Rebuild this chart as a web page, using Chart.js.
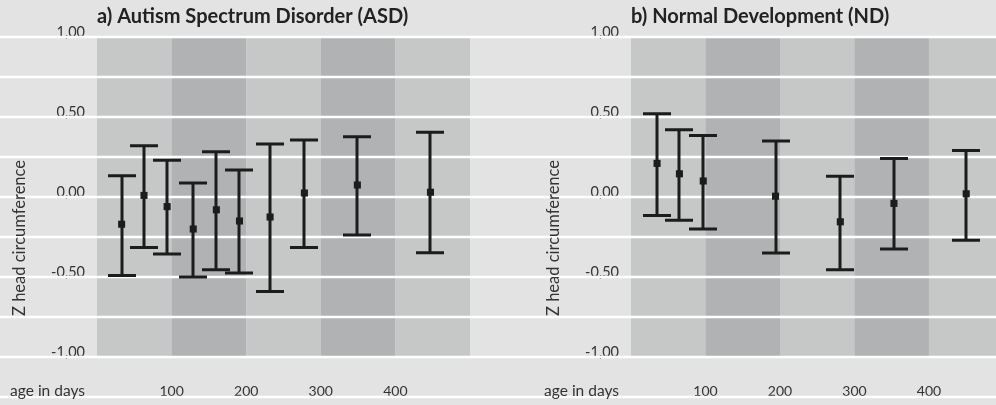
<!DOCTYPE html>
<html>
<head>
<meta charset="utf-8">
<script src="https://cdn.jsdelivr.net/npm/chart.js"></script>
<style>
  html, body { margin: 0; padding: 0; background: #e3e3e3; }
  #wrap { display: flex; width: 996px; height: 405px; }
  canvas { display: block; }
</style>
</head>
<body>
<div id="wrap">
  <canvas id="asd" width="498" height="405"></canvas>
  <canvas id="nd" width="498" height="405"></canvas>
</div>
<script>
// a) ASD
var asdDays  = [33, 63, 94, 129, 160, 191, 232, 278, 349, 447];
var asdMean  = [-0.17, 0.01, -0.06, -0.20, -0.08, -0.15, -0.125, 0.025, 0.075, 0.03];
var asdUpper = [0.133, 0.32, 0.229, 0.088, 0.283, 0.169, 0.331, 0.356, 0.377, 0.404];
var asdLower = [-0.49, -0.315, -0.356, -0.50, -0.455, -0.475, -0.59, -0.315, -0.238, -0.348];

// b) ND
var ndDays  = [35, 65, 97, 194, 281, 353, 450];
var ndMean  = [0.21, 0.145, 0.10, 0.005, -0.155, -0.04, 0.02];
var ndUpper = [0.52, 0.42, 0.385, 0.35, 0.13, 0.24, 0.29];
var ndLower = [-0.115, -0.145, -0.20, -0.35, -0.455, -0.325, -0.27];

var xTicks = [100, 200, 300, 400];
var yTicks = [1, 0.5, 0, -0.5, -1];
var bandEdges = [0, 100, 200, 300, 400, 500];
var gridValues = [1, 0.75, 0.5, 0.25, 0, -0.25, -0.5, -0.75, -1, -1.25];

var FONT = "Lato, 'Open Sans', sans-serif";
var INK = '#1c1c1c';

var panelDecor = {
  id: 'panelDecor',
  beforeDraw: function (chart) {
    var ctx = chart.ctx;
    ctx.save();
    ctx.fillStyle = '#e3e3e3';
    ctx.fillRect(0, 0, chart.width, chart.height);
    ctx.restore();
  },
  beforeDatasetsDraw: function (chart, args, opts) {
    var ctx = chart.ctx, a = chart.chartArea, x = chart.scales.x, y = chart.scales.y;
    ctx.save();
    // alternating 100-day bands
    for (var i = 0; i < bandEdges.length - 1; i++) {
      var l = x.getPixelForValue(bandEdges[i]);
      var r = Math.min(x.getPixelForValue(bandEdges[i + 1]), a.right);
      if (r <= l) continue;
      ctx.fillStyle = i % 2 ? '#b1b2b3' : '#c6c7c7';
      ctx.fillRect(l, a.top, r - l, a.bottom - a.top);
    }
    // white grid lines across the whole width
    ctx.strokeStyle = '#ffffff';
    ctx.lineWidth = 2.5;
    gridValues.forEach(function (v) {
      var py = Math.round(y.getPixelForValue(v));
      ctx.beginPath();
      ctx.moveTo(0, py);
      ctx.lineTo(chart.width, py);
      ctx.stroke();
    });
    // error bars
    ctx.strokeStyle = INK;
    ctx.lineWidth = 3;
    opts.days.forEach(function (d, i) {
      var px = Math.round(x.getPixelForValue(d));
      var top = y.getPixelForValue(opts.upper[i]);
      var bot = y.getPixelForValue(opts.lower[i]);
      ctx.beginPath();
      ctx.moveTo(px, top); ctx.lineTo(px, bot);
      ctx.moveTo(px - 14, top); ctx.lineTo(px + 14, top);
      ctx.moveTo(px - 14, bot); ctx.lineTo(px + 14, bot);
      ctx.stroke();
    });
    ctx.restore();
  },
  afterDraw: function (chart, args, opts) {
    var ctx = chart.ctx, a = chart.chartArea;
    ctx.save();
    ctx.fillStyle = '#222';
    ctx.font = 'bold 20px ' + FONT;
    ctx.textAlign = 'left';
    ctx.textBaseline = 'middle';
    ctx.fillText(opts.title, a.left, 17);

    ctx.fillStyle = '#333';
    ctx.font = '15.5px ' + FONT;
    ctx.textAlign = 'right';
    ctx.fillText('age in days', a.left - 12, 391);

    ctx.font = '16.5px ' + FONT;
    ctx.translate(opts.yTitleX, 238);
    ctx.rotate(-Math.PI / 2);
    ctx.textAlign = 'center';
    ctx.fillText('Z head circumference', 0, 0);
    ctx.restore();
  }
};

function makePanel(id, title, days, mean, upper, lower, xMax, axisWidth, padRight, yTitleX) {
  return new Chart(document.getElementById(id), {
    type: 'scatter',
    data: {
      datasets: [{
        data: days.map(function (d, i) { return { x: d, y: mean[i] }; }),
        pointStyle: 'rect',
        pointRadius: 5,
        backgroundColor: INK,
        borderWidth: 0
      }]
    },
    options: {
      responsive: false,
      animation: false,
      events: [],
      layout: { autoPadding: false, padding: { top: 37, right: padRight, left: 0, bottom: 0 } },
      plugins: {
        legend: { display: false },
        tooltip: { enabled: false },
        panelDecor: { title: title, days: days, upper: upper, lower: lower, yTitleX: yTitleX }
      },
      scales: {
        x: {
          type: 'linear', min: 0, max: xMax,
          grid: { display: false, drawTicks: false },
          border: { display: false },
          afterBuildTicks: function (s) { s.ticks = xTicks.map(function (v) { return { value: v }; }); },
          afterFit: function (s) { s.height = 48; s.paddingLeft = 0; s.paddingRight = 0; },
          ticks: {
            autoSkip: false, padding: 26,
            color: '#333', font: { family: FONT, size: 14 },
            callback: function (v) { return String(v); }
          }
        },
        y: {
          type: 'linear', min: -1, max: 1,
          grid: { display: false, drawTicks: false },
          border: { display: false },
          afterBuildTicks: function (s) { s.ticks = yTicks.map(function (v) { return { value: v }; }); },
          afterFit: function (s) { s.width = axisWidth; s.paddingTop = 0; s.paddingBottom = 0; },
          ticks: {
            autoSkip: false, padding: 12, labelOffset: -5,
            color: '#333', font: { family: FONT, size: 14.5 },
            callback: function (v) { return v.toFixed(2).replace('.', ','); }
          }
        }
      }
    },
    plugins: [panelDecor]
  });
}

makePanel('asd', 'a) Autism Spectrum Disorder (ASD)', asdDays, asdMean, asdUpper, asdLower, 500, 97, 28, 20);
makePanel('nd', 'b) Normal Development (ND)', ndDays, ndMean, ndUpper, ndLower, 490, 133, 0, 56);
</script>
</body>
</html>
